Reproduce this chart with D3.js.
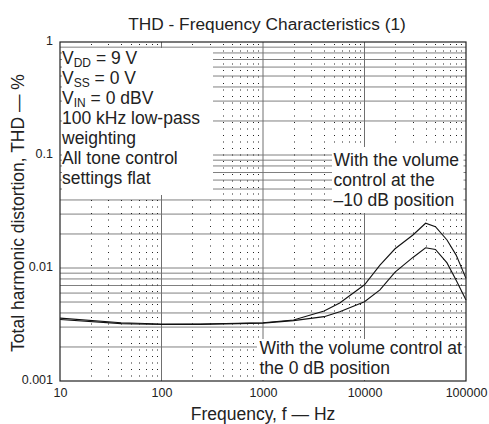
<!DOCTYPE html>
<html>
<head>
<meta charset="utf-8">
<script src="https://cdn.jsdelivr.net/npm/d3@7"></script>
<style>
  body { margin: 0; background: #fff; }
  svg { font-family: "Liberation Sans", Arial, sans-serif; }
</style>
</head>
<body>
<svg id="chart" width="489" height="424"></svg>
<script>
// data
const freq = [10, 40, 100, 240, 1000, 2000, 4000, 5700, 10000, 14200, 20000, 30000, 40000, 50000, 65000, 80000, 100000];
const thd_m10db = [0.0036, 0.00328, 0.00319, 0.00319, 0.00328, 0.00347, 0.00416, 0.0049, 0.0071, 0.0106, 0.0148, 0.0196, 0.0249, 0.0232, 0.0177, 0.013, 0.0081];
const thd_0db = [0.0035, 0.00322, 0.00316, 0.00317, 0.00325, 0.00342, 0.00371, 0.0041, 0.00503, 0.0064, 0.0092, 0.0124, 0.0151, 0.0146, 0.0111, 0.0078, 0.0052];
const x_ticks = [10, 100, 1000, 10000, 100000];
const x_tick_labels = ['10', '100', '1000', '10000', '100000'];
const y_ticks = [0.001, 0.01, 0.1, 1];
const y_tick_labels = ['0.001', '0.01', '0.1', '1'];

let svg = d3.select('#chart');
let x = d3.scaleLog().domain([10, 100000]).range([60, 466]);
let y = d3.scaleLog().domain([0.001, 1]).range([381, 42]);

// minor values of each decade
let x_minor = [];
[10, 100, 1000, 10000].forEach(d => { for (let k = 2; k <= 9; k++) x_minor.push(d * k); });
let y_lines = [];
[0.001, 0.01, 0.1].forEach(d => { for (let k = 1; k <= 9; k++) if (!(d === 0.001 && k === 1)) y_lines.push(d * k); });

let grid = svg.append('g');
// horizontal lines, all solid grey
grid.selectAll('line.h')
    .data(y_lines)
    .join('line')
    .attr('x1', 60).attr('x2', 466)
    .attr('y1', d => y(d)).attr('y2', d => y(d))
    .attr('stroke', '#808080')
    .attr('stroke-width', 1);
// vertical decade lines
grid.selectAll('line.vd')
    .data(x_ticks.slice(1, -1))
    .join('line')
    .attr('x1', d => x(d)).attr('x2', d => x(d))
    .attr('y1', 42).attr('y2', 381)
    .attr('stroke', '#707070')
    .attr('stroke-width', 1);
// vertical minor lines, dotted
grid.selectAll('line.vm')
    .data(x_minor)
    .join('line')
    .attr('x1', d => Math.round(x(d)) + 0.5).attr('x2', d => Math.round(x(d)) + 0.5)
    .attr('y1', 44).attr('y2', 381)
    .attr('stroke', '#222')
    .attr('stroke-width', 1)
    .attr('stroke-dasharray', '1,5.5');

// white boxes behind the notes
let boxes = [
    {x0: 62, y0: 48, x1: 213, y1: 195},
    {x0: 332, y0: 147, x1: 463.5, y1: 213},
    {x0: 257, y0: 339, x1: 464, y1: 380}
];
svg.append('g').selectAll('rect')
    .data(boxes)
    .join('rect')
    .attr('x', d => d.x0).attr('y', d => d.y0)
    .attr('width', d => d.x1 - d.x0).attr('height', d => d.y1 - d.y0)
    .attr('fill', '#fff');

// curves
let line = d3.line()
    .x((d, i) => x(freq[i]))
    .y(d => y(d));
[thd_m10db, thd_0db].forEach(s => {
    svg.append('path')
        .attr('d', line(s))
        .attr('fill', 'none')
        .attr('stroke', '#111')
        .attr('stroke-width', 1.1);
});

// frame
svg.append('rect')
    .attr('x', 60).attr('y', 42)
    .attr('width', 406).attr('height', 339)
    .attr('fill', 'none')
    .attr('stroke', '#222')
    .attr('stroke-width', 1.2);

// axes, labels only
let xAxis = svg.append('g')
    .attr('transform', 'translate(0,381)')
    .call(d3.axisBottom(x).tickValues(x_ticks).tickFormat((d, i) => x_tick_labels[i]).tickSize(0).tickPadding(7));
let yAxis = svg.append('g')
    .attr('transform', 'translate(60,0)')
    .call(d3.axisLeft(y).tickValues(y_ticks).tickFormat((d, i) => y_tick_labels[i]).tickSize(0).tickPadding(7));
[xAxis, yAxis].forEach(a => {
    a.select('.domain').remove();
    a.selectAll('text')
        .attr('font-family', '"Liberation Sans", Arial, sans-serif')
        .attr('font-size', 12.5)
        .attr('fill', '#222');
});
yAxis.selectAll('text').attr('dy', '0.2em');

// titles
svg.append('text')
    .attr('x', 267).attr('y', 30)
    .attr('text-anchor', 'middle')
    .attr('font-size', 17.3)
    .attr('fill', '#222')
    .text('THD - Frequency Characteristics (1)');
svg.append('text')
    .attr('x', 263).attr('y', 420)
    .attr('text-anchor', 'middle')
    .attr('font-size', 17.5)
    .attr('fill', '#222')
    .text('Frequency, f — Hz');
svg.append('text')
    .attr('transform', 'translate(24,213) rotate(-90)')
    .attr('text-anchor', 'middle')
    .attr('font-size', 17.5)
    .attr('fill', '#222')
    .text('Total harmonic distortion, THD — %');

// notes
function note(x0, y0, lines) {
    let t = svg.append('text')
        .attr('font-size', 17.5)
        .attr('fill', '#222');
    lines.forEach((l, i) => {
        let row = t.append('tspan').attr('x', x0).attr('y', y0 + i * 20);
        l.forEach(part => {
            if (part.sub) {
                row.append('tspan').attr('font-size', 12).attr('dy', 3.5).text(part.sub);
                row.append('tspan').attr('dy', -3.5).text(part.after);
            } else {
                row.append('tspan').text(part.t);
            }
        });
    });
}
note(62, 63.5, [
    [{t: 'V'}, {sub: 'DD', after: ' = 9 V'}],
    [{t: 'V'}, {sub: 'SS', after: ' = 0 V'}],
    [{t: 'V'}, {sub: 'IN', after: ' = 0 dBV'}],
    [{t: '100 kHz low-pass'}],
    [{t: 'weighting'}],
    [{t: 'All tone control'}],
    [{t: 'settings flat'}]
]);
note(333.5, 166, [
    [{t: 'With the volume'}],
    [{t: 'control at the'}],
    [{t: '–10 dB position'}]
]);
note(259.5, 354, [
    [{t: 'With the volume control at'}],
    [{t: 'the 0 dB position'}]
]);
</script>
</body>
</html>
